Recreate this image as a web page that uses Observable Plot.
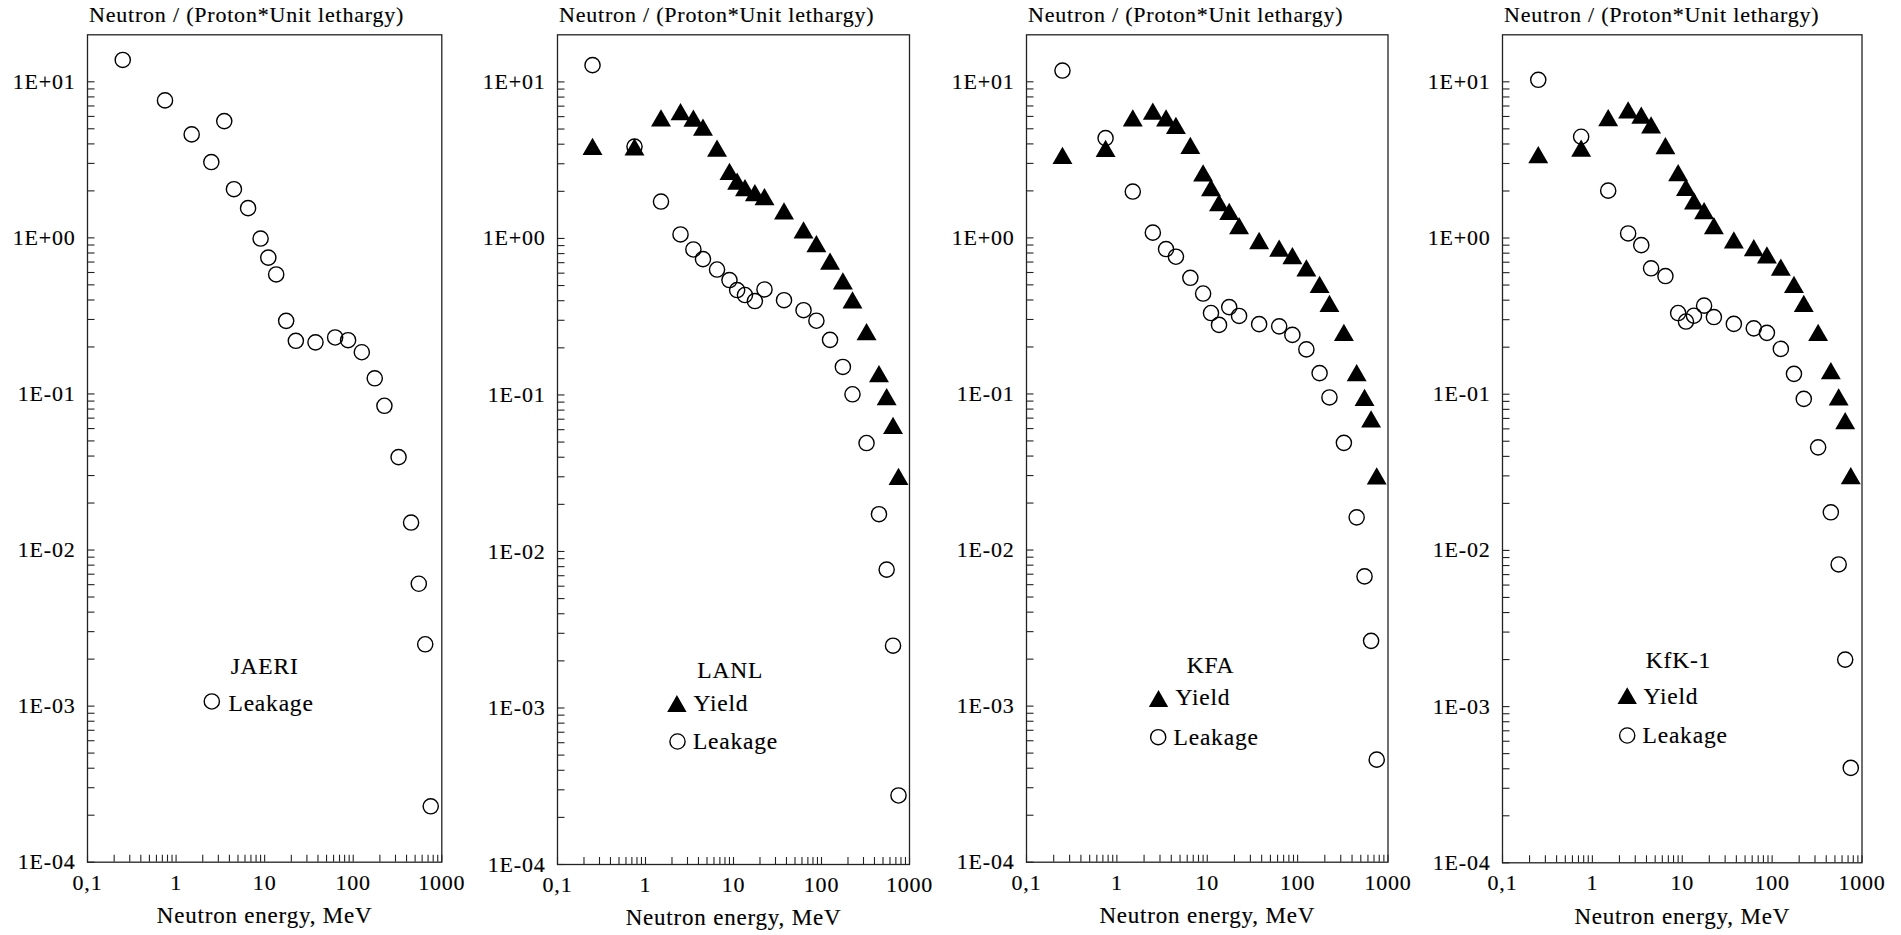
<!DOCTYPE html>
<html><head><meta charset="utf-8">
<script src="https://cdn.jsdelivr.net/npm/d3@7"></script>
<script src="https://cdn.jsdelivr.net/npm/@observablehq/plot@0.6"></script>
<style>
html,body{margin:0;padding:0;background:#fff;}
#root{position:relative;width:1901px;height:935px;overflow:hidden;background:#fff;}
#root svg{position:absolute;top:0;}
#root svg, #root svg text{font-family:"Liberation Serif","Times New Roman",Times,serif !important;}
#root svg text{stroke:#000;stroke-width:0.15px;}
</style></head><body><div id="root"></div>
<script>
// ---- data ----
const energy = [0.25, 0.75, 1.5, 2.5, 3.5, 4.5, 6.5, 9, 11, 13.5, 17.5, 22.5, 37.5, 62.5, 87.5, 125, 175, 225, 325, 450, 550, 650, 750];
const jaeriLeakage = [13.8, 7.6, 4.6, 3.06, 5.6, 2.05, 1.55, 0.99, 0.747, 0.583, 0.294, 0.219, 0.214, 0.230, 0.221, 0.185, 0.126, 0.084, 0.0394, 0.0150, 0.00608, 0.00249, 0.000228];
const lanlLeakage = [12.8, 3.86, 1.72, 1.06, 0.85, 0.738, 0.633, 0.542, 0.468, 0.435, 0.398, 0.472, 0.403, 0.348, 0.298, 0.225, 0.151, 0.101, 0.0493, 0.0173, 0.00766, 0.0025, 0.000276];
const lanlYield = [3.88, 3.85, 5.89, 6.46, 5.88, 5.14, 3.77, 2.68, 2.32, 2.11, 1.96, 1.85, 1.50, 1.135, 0.927, 0.717, 0.536, 0.405, 0.254, 0.137, 0.0975, 0.0639, 0.0302];
const kfaLeakage = [11.8, 4.36, 1.98, 1.08, 0.848, 0.757, 0.555, 0.440, 0.330, 0.277, 0.360, 0.316, 0.280, 0.271, 0.239, 0.193, 0.136, 0.095, 0.0486, 0.0162, 0.00678, 0.00262, 0.000454];
const kfaYield = [3.38, 3.75, 5.87, 6.49, 5.87, 5.25, 3.91, 2.61, 2.1, 1.68, 1.48, 1.2, 0.962, 0.86, 0.77, 0.643, 0.503, 0.381, 0.248, 0.137, 0.095, 0.0693, 0.0299];
const kfk1Leakage = [10.3, 4.45, 2.01, 1.07, 0.90, 0.64, 0.571, 0.331, 0.292, 0.318, 0.369, 0.312, 0.282, 0.264, 0.247, 0.195, 0.135, 0.0933, 0.0457, 0.01754, 0.00813, 0.002, 0.000405];
const kfk1Yield = [3.42, 3.76, 5.89, 6.62, 6.12, 5.3, 3.91, 2.62, 2.11, 1.73, 1.50, 1.2, 0.973, 0.867, 0.78, 0.652, 0.505, 0.381, 0.249, 0.1416, 0.096, 0.0678, 0.0301];

const panelNames = ["JAERI", "LANL", "KFA", "KfK-1"];
const seriesNames = ["Yield", "Leakage"];
const xTickValues = [0.1, 1, 10, 100, 1000];
const xTickLabels = ["0,1", "1", "10", "100", "1000"];
const yTickValues = [1e-4, 1e-3, 1e-2, 1e-1, 1, 10];
const yTickLabels = ["1E-04", "1E-03", "1E-02", "1E-01", "1E+00", "1E+01"];
const yTitle = "Neutron / (Proton*Unit lethargy)";
const xTitle = "Neutron energy, MeV";

// ---- layout (pixels) ----
const FONT = "'Liberation Serif','Times New Roman',Times,serif";
const TOP = 34.3, ML = 87, MR = 34;
const layout = [
  {frameLeft: 86.7, frameW: 354.3, bottom: 861.7,
   title: [177.1, 631.7], tri: null, triText: null, circ: [124.3, 666.7], circText: [141, 668.2]},
  {frameLeft: 557.3, frameW: 352, bottom: 864,
   title: [172.7, 635.2], tri: [119.4, 668.7], triText: [136, 668.4], circ: [120, 706.7], circText: [135.4, 706.7]},
  {frameLeft: 1026, frameW: 361.5, bottom: 861.7,
   title: [184, 630.7], tri: [132, 663.7], triText: [149, 663], circ: [131.7, 702.4], circText: [147, 702.4]},
  {frameLeft: 1502, frameW: 359.5, bottom: 862.3,
   title: [176, 626], tri: [124.7, 660.9], triText: [141, 662], circ: [124.7, 700.7], circText: [140, 700.7]}
];
const panelData = [
  {yieldV: null, leakV: jaeriLeakage},
  {yieldV: lanlYield, leakV: lanlLeakage},
  {yieldV: kfaYield, leakV: kfaLeakage},
  {yieldV: kfk1Yield, leakV: kfk1Leakage}
];

// minor ticks
const xMinor = [];
for (const d of [0.1, 1, 10, 100]) for (let k = 1; k <= 9; k++) xMinor.push(d * k);
xMinor.push(1000);
const yMinor = [];
for (const d of [1e-4, 1e-3, 1e-2, 1e-1, 1]) for (let k = 1; k <= 9; k++) yMinor.push(d * k);
yMinor.push(10);

// triangle centred on its bounding box
const triangleUp = {
  draw(ctx, size) {
    const s = Math.sqrt(size * 4 / Math.sqrt(3));
    const h = s * Math.sqrt(3) / 2;
    ctx.moveTo(0, -h / 2);
    ctx.lineTo(s / 2, h / 2);
    ctx.lineTo(-s / 2, h / 2);
    ctx.closePath();
  }
};

const root = document.getElementById("root");
layout.forEach((L, p) => {
  const fh = L.bottom - TOP;
  const {yieldV, leakV} = panelData[p];
  const marks = [
    Plot.frame({stroke: "#222", strokeWidth: 1.3}),
    Plot.tickY(yMinor, {y: d => d, insetRight: L.frameW - 7.5, stroke: "#222", strokeWidth: 1.1}),
    Plot.tickX(xMinor, {x: d => d, insetTop: fh - 7, stroke: "#222", strokeWidth: 1.1}),
    Plot.axisY({ticks: yTickValues, tickFormat: d => yTickLabels[yTickValues.indexOf(d)], tickSize: 0, tickPadding: 12, label: null, fontSize: 22, fill: "#000"}),
    Plot.axisX({ticks: xTickValues, tickFormat: d => xTickLabels[xTickValues.indexOf(d)], tickSize: 0, tickPadding: 12, label: null, fontSize: 22, fill: "#000"}),
    Plot.text([yTitle], {text: d => d, frameAnchor: "top-left", textAnchor: "start", lineAnchor: "middle", dx: 1.5, dy: -20, fontSize: 22, fill: "#000"}),
    Plot.text([xTitle], {text: d => d, frameAnchor: "bottom", lineAnchor: "middle", dy: 53.5, fontSize: 23, fill: "#000"})
  ];
  if (yieldV) {
    marks.push(Plot.dot(energy.map((e, i) => ({e, v: yieldV[i]})), {x: "e", y: "v", symbol: triangleUp, r: 7.4, fill: "#000", stroke: "none"}));
  }
  marks.push(Plot.dot(energy.map((e, i) => ({e, v: leakV[i]})), {x: "e", y: "v", r: 7.6, fill: "none", stroke: "#000", strokeWidth: 1.4}));
  // legend
  marks.push(Plot.text([panelNames[p]], {text: d => d, frameAnchor: "top-left", textAnchor: "middle", lineAnchor: "middle", dx: L.title[0], dy: L.title[1], fontSize: 23.5, fill: "#000"}));
  if (L.tri) {
    marks.push(Plot.dot([seriesNames[0]], {frameAnchor: "top-left", dx: L.tri[0], dy: L.tri[1], symbol: triangleUp, r: 7.2, fill: "#000", stroke: "none"}));
    marks.push(Plot.text([seriesNames[0]], {text: d => d, frameAnchor: "top-left", textAnchor: "start", lineAnchor: "middle", dx: L.triText[0], dy: L.triText[1], fontSize: 23.5, fill: "#000"}));
  }
  marks.push(Plot.dot([seriesNames[1]], {frameAnchor: "top-left", dx: L.circ[0], dy: L.circ[1], r: 7.6, fill: "none", stroke: "#000", strokeWidth: 1.4}));
  marks.push(Plot.text([seriesNames[1]], {text: d => d, frameAnchor: "top-left", textAnchor: "start", lineAnchor: "middle", dx: L.circText[0], dy: L.circText[1], fontSize: 23.5, fill: "#000"}));

  const svg = Plot.plot({
    width: ML + L.frameW + MR,
    height: 935,
    marginLeft: ML, marginRight: MR, marginTop: TOP, marginBottom: 935 - L.bottom,
    x: {type: "log", domain: [0.1, 1000]},
    y: {type: "log", domain: [1e-4, 20]},
    style: {fontFamily: FONT, letterSpacing: "0.8px", background: "transparent", color: "#000", overflow: "visible"},
    marks
  });
  svg.style.left = (L.frameLeft - ML) + "px";
  svg.setAttribute("font-family", FONT);
  root.appendChild(svg);
});
</script></body></html>
